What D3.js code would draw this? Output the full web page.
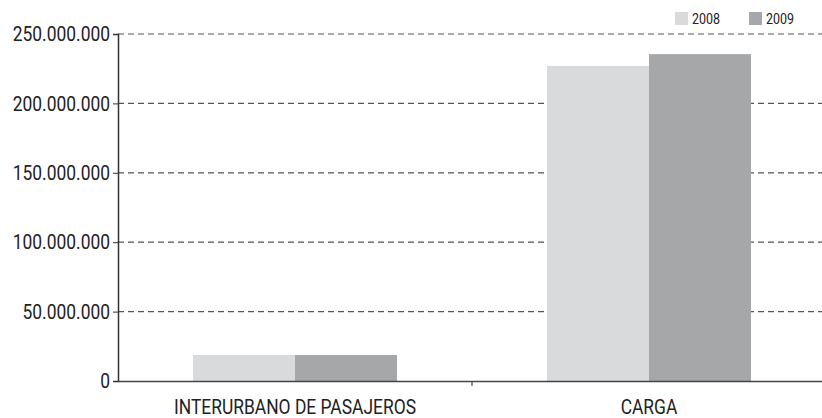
<!DOCTYPE html>
<html>
<head>
<meta charset="utf-8">
<script src="https://cdn.jsdelivr.net/npm/d3@7"></script>
<style>
  body { margin: 0; background: #fff; }
  svg text { font-family: Roboto, "Noto Sans", sans-serif; fill: #222; }
</style>
</head>
<body>
<div id="chart"></div>
<script>
const categories = ["INTERURBANO DE PASAJEROS", "CARGA"];
const years = ["2008", "2009"];
const values2008 = [18700000, 227000000];
const values2009 = [18700000, 235500000];
const yTicks = [0, 50000000, 100000000, 150000000, 200000000, 250000000];

const width = 822, height = 418;
const margin = { top: 34, right: -4, bottom: 37, left: 118 };
const squeeze = 0.83; // condensed look

const svg = d3.select("#chart")
  .append("svg")
  .attr("width", width)
  .attr("height", height);

const x0 = d3.scaleBand()
  .domain(categories)
  .range([margin.left, width - margin.right])
  .padding(0);

const x1 = d3.scaleBand()
  .domain(years)
  .range([0, x0.bandwidth()])
  .paddingInner(0)
  .paddingOuter(0.735);

const y = d3.scaleLinear()
  .domain([0, 250000000])
  .range([height - margin.bottom, margin.top]);

const color = d3.scaleOrdinal().domain(years).range(["#d9dadc", "#a6a7a9"]);

const fmt = v => v === 0 ? "0" : d3.format(",")(v).replace(/,/g, ".");

function condense(sel) {
  sel.each(function () {
    const t = d3.select(this);
    const tx = +t.attr("x") || 0;
    t.attr("x", 0).attr("transform", `translate(${tx},0) scale(${squeeze},1)`);
  });
}

// gridlines
svg.append("g")
  .selectAll("line")
  .data(yTicks.filter(d => d > 0))
  .join("line")
  .attr("x1", margin.left)
  .attr("x2", width)
  .attr("y1", d => y(d))
  .attr("y2", d => y(d))
  .attr("stroke", "#555")
  .attr("stroke-width", 1.2)
  .attr("stroke-dasharray", "6,4");

// bars
const data = categories.map((c, i) => ({ cat: c, vals: [values2008[i], values2009[i]] }));
svg.append("g")
  .selectAll("g")
  .data(data)
  .join("g")
  .attr("transform", d => `translate(${x0(d.cat)},0)`)
  .selectAll("rect")
  .data(d => years.map((yr, j) => ({ yr, v: d.vals[j] })))
  .join("rect")
  .attr("x", d => x1(d.yr))
  .attr("width", x1.bandwidth())
  .attr("y", d => y(d.v))
  .attr("height", d => y(0) - y(d.v))
  .attr("fill", d => color(d.yr));

// y axis
const yAxis = svg.append("g")
  .attr("transform", `translate(${margin.left},0)`)
  .call(d3.axisLeft(y).tickValues(yTicks).tickFormat(fmt).tickSizeOuter(0).tickSize(5).tickPadding(3));
yAxis.select(".domain").attr("stroke", "#333").attr("stroke-width", 1.5);
yAxis.selectAll(".tick line").attr("stroke", "#333");
yAxis.selectAll(".tick text").style("font-size", "21px").attr("fill", "#222").call(condense);

// x axis
const xAxis = svg.append("g")
  .attr("transform", `translate(0,${y(0)})`)
  .call(d3.axisBottom(x0).tickSize(0).tickPadding(18));
xAxis.select(".domain").attr("stroke", "#444").attr("stroke-width", 1.5);
xAxis.selectAll(".tick text").style("font-size", "21px").attr("fill", "#222").call(condense);

// separator tick between categories
svg.append("line")
  .attr("x1", x0(categories[1]))
  .attr("x2", x0(categories[1]))
  .attr("y1", y(0))
  .attr("y2", y(0) + 5)
  .attr("stroke", "#444")
  .attr("stroke-width", 1.2);

// legend
const legend = svg.append("g").attr("transform", "translate(675,12)");
years.forEach((yr, i) => {
  const g = legend.append("g").attr("transform", `translate(${i * 74},0)`);
  g.append("rect").attr("width", 13).attr("height", 13).attr("fill", color(yr));
  g.append("text")
    .attr("x", 17)
    .attr("y", 12)
    .style("font-size", "15px")
    .text(yr)
    .call(condense);
});
</script>
</body>
</html>
